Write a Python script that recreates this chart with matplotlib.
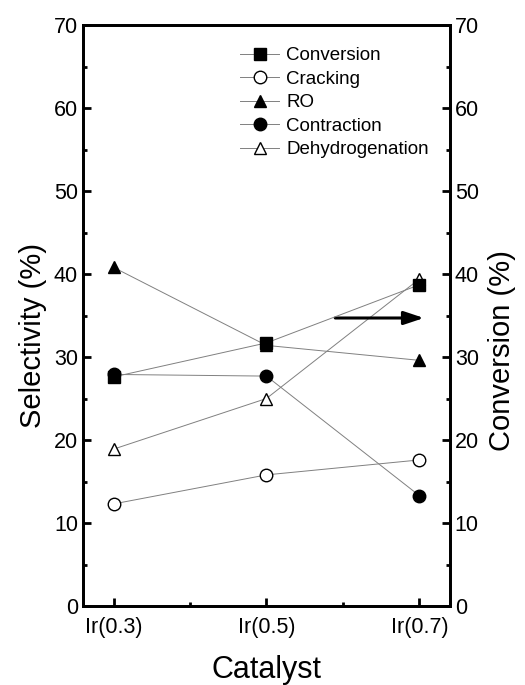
import matplotlib.pyplot as plt
from matplotlib.ticker import MultipleLocator

plt.rcParams['font.family'] = ['Liberation Sans', 'DejaVu Sans']

catalysts = ['Ir(0.3)', 'Ir(0.5)', 'Ir(0.7)']
conversion = [27.6, 31.7, 38.7]
cracking = [12.3, 15.8, 17.6]
ro = [40.8, 31.4, 29.6]
contraction = [27.9, 27.7, 13.3]
dehydrogenation = [18.9, 25.0, 39.4]

x = list(range(len(catalysts)))

fig = plt.figure(figsize=(5.25, 6.85), dpi=100)
ax = fig.add_axes([0.158, 0.1153, 0.699, 0.8482])
ax2 = ax.twinx()

line_kw = dict(color='#808080', linewidth=0.7, markersize=9,
               markeredgecolor='black', markeredgewidth=1.0)

h_conv, = ax2.plot(x, conversion, marker='s', markerfacecolor='black', label='Conversion', **line_kw)
h_crack, = ax.plot(x, cracking, marker='o', markerfacecolor='white', label='Cracking', **line_kw)
h_ro, = ax.plot(x, ro, marker='^', markerfacecolor='black', label='RO', **line_kw)
h_con, = ax.plot(x, contraction, marker='o', markerfacecolor='black', label='Contraction', **line_kw)
h_dehy, = ax.plot(x, dehydrogenation, marker='^', markerfacecolor='white', label='Dehydrogenation', **line_kw)

# arrow pointing to the right axis (conversion)
ax.annotate('', xy=(2.03, 34.7), xytext=(1.45, 34.7),
            arrowprops=dict(arrowstyle='-|>,head_length=1.2,head_width=0.4',
                            color='black', linewidth=2.2, shrinkA=0, shrinkB=0))

for a in (ax, ax2):
    a.set_xlim(-0.2, 2.2)
    a.set_ylim(0, 70)
    a.yaxis.set_major_locator(MultipleLocator(10))
    a.yaxis.set_minor_locator(MultipleLocator(5))
    a.tick_params(which='major', direction='in', length=6, width=2, labelsize=15.5)
    a.tick_params(which='minor', direction='in', length=3, width=2)
    for s in a.spines.values():
        s.set_linewidth(2)

ax.set_xticks(x)
ax.set_xticklabels(catalysts)
ax.xaxis.set_minor_locator(MultipleLocator(0.5))
ax.tick_params(axis='x', which='major', pad=8)
ax.tick_params(axis='x', top=False)

ax.set_xlabel('Catalyst', fontsize=22, labelpad=12)
ax.set_ylabel('Selectivity (%)', fontsize=21)
ax2.set_ylabel('Conversion (%)', fontsize=21)
ax.yaxis.set_label_coords(-0.097, 0.465)
ax2.yaxis.set_label_coords(1.104, 0.44)

leg = ax2.legend(handles=[h_conv, h_crack, h_ro, h_con, h_dehy],
                 loc='upper left', bbox_to_anchor=(0.428, 0.962), frameon=False,
                 fontsize=13.5, handlelength=2.1, handletextpad=0.37,
                 labelspacing=0.34, borderaxespad=0, borderpad=0)

fig.savefig('out.png', dpi=100)
